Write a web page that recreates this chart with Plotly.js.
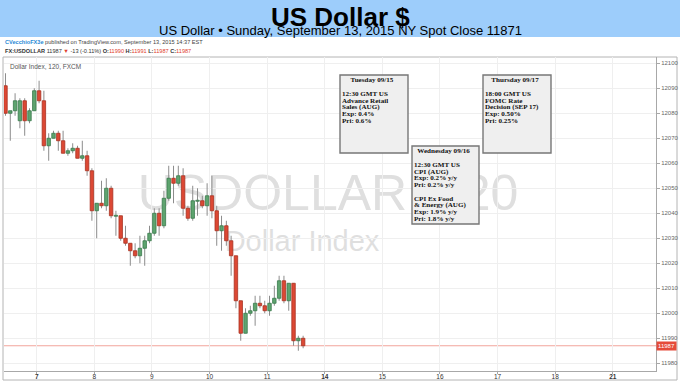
<!DOCTYPE html>
<html><head><meta charset="utf-8">
<script src="https://cdn.plot.ly/plotly-3.0.1.min.js"></script>
<style>
html,body{margin:0;padding:0;background:#fff;overflow:hidden}
#wrap{position:relative;width:680px;height:382px}
.wm{position:absolute;font-family:"Liberation Sans",Arial,sans-serif;color:#dfdfdf;white-space:nowrap;transform:translate(-50%,-50%);line-height:1}
#wm1{left:328px;top:193px;font-size:50px}
#wm2{left:302px;top:241px;font-size:29px}
#chart{position:absolute;left:0;top:0;width:680px;height:382px}
.bt{position:absolute;font-family:"Liberation Serif","Times New Roman",serif;font-weight:bold;font-size:5.9px;color:#111;white-space:nowrap;transform-origin:0 0}
</style></head>
<body><div id="wrap"><div class="wm" id="wm1">USDOLLAR, 120</div><div class="wm" id="wm2">Dollar Index</div><div id="chart"></div></div>
<script>
// ---- data (120-minute candles, FXCM USDOLLAR) ----
const opens  = [12091,12080,12081,12077,12085,12077,12081,12089,12085,12067,12070,12072,12069,12064,12065,12066,12062,12063,12057,12041,12044,12043,12050,12039,12039,12030,12028,12025,12023,12026,12029,12032,12040,12035,12046,12054,12052,12055,12042,12038,12045,12045,12043,12047,12041,12033,12035,12029,12023,12005,11992,12000,12001,12004,12003,12001,12004,12006,12013,12005,12012,11989,11990];
const highs  = [12096,12081,12088,12086,12086,12082,12090,12093,12089,12072,12073,12073,12073,12066,12068,12067,12069,12065,12058,12044,12053,12054,12051,12041,12039,12035,12028,12028,12031,12031,12035,12042,12042,12049,12059,12059,12059,12058,12043,12051,12050,12047,12052,12055,12043,12039,12037,12031,12023,12005,12002,12003,12007,12007,12005,12007,12011,12015,12015,12012,12012,11991,11991];
const lows   = [12079,12069,12079,12074,12071,12076,12081,12084,12065,12061,12070,12065,12064,12063,12064,12062,12061,12055,12037,12030,12042,12041,12038,12031,12029,12027,12019,12022,12020,12019,12028,12031,12031,12034,12045,12044,12051,12039,12037,12037,12039,12042,12039,12038,12027,12025,12027,12015,12002,11989,11992,11999,11995,12002,12000,11999,12003,12005,12004,12001,11987,11985,11986];
const closes = [12080,12081,12085,12085,12077,12081,12089,12085,12067,12070,12072,12069,12064,12065,12066,12062,12063,12057,12041,12044,12043,12050,12039,12039,12030,12028,12025,12023,12026,12029,12032,12040,12035,12046,12054,12052,12055,12042,12038,12045,12045,12043,12047,12041,12033,12035,12029,12023,12005,11992,12000,12001,12004,12003,12001,12004,12006,12013,12005,12012,11989,11990,11987];
const dayLabels = ['7','8','9','10','11','14','15','16','17','18','21'];
const weekStart = [true,false,false,false,false,true,false,false,false,false,true];
const lastPrice = 11987;
const tueTitle = 'Tuesday 09/15';
const tueLines = ['12:30 GMT US','Advance Retail','Sales (AUG)','Exp: 0.4%','Pri: 0.6%'];
const wedTitle = 'Wednesday 09/16';
const wedLines = ['12:30 GMT US','CPI (AUG)','Exp: 0.2% y/y','Pri: 0.2% y/y','','CPI Ex Food','& Energy (AUG)','Exp: 1.9% y/y','Pri: 1.8% y/y'];
const thuTitle = 'Thursday 09/17';
const thuLines = ['18:00 GMT US','FOMC Rate','Decision (SEP 17)','Exp: 0.50%','Pri: 0.25%'];

// ---- geometry helpers (layout only) ----
const M = {l:4, r:24, t:57, b:11};
const W = 680, H = 382;
const PW = W - M.l - M.r, PH = H - M.t - M.b;
const px = x => (x - M.l) / PW;
const py = y => (H - M.b - y) / PH;

const idx = opens.map((_, i) => i);

// wicks
const wx = [], wy = [];
idx.forEach(i => { wx.push(i, i, null); wy.push(lows[i], highs[i], null); });

function bodies(up) {
  const bx = [], by = [], hw = 0.36;
  idx.forEach(i => {
    const o = opens[i], c = closes[i];
    if ((c >= o) !== up) return;
    let top = Math.max(o, c), bot = Math.min(o, c);
    if (top - bot < 0.4) { const m = (top + bot) / 2; top = m + 0.2; bot = m - 0.2; }
    bx.push(i - hw, i + hw, i + hw, i - hw, i - hw, null);
    by.push(bot, bot, top, top, bot, null);
  });
  return {bx, by};
}
const upB = bodies(true), dnB = bodies(false);

const traces = [
  {type:'scatter', mode:'lines', x:wx, y:wy, line:{color:'#8c8c8c', width:1}, hoverinfo:'skip'},
  {type:'scatter', mode:'lines', x:upB.bx, y:upB.by, fill:'toself', fillcolor:'#5ea46f', line:{color:'#3a7a4d', width:0.8}, hoverinfo:'skip'},
  {type:'scatter', mode:'lines', x:dnB.bx, y:dnB.by, fill:'toself', fillcolor:'#dc4834', line:{color:'#a83222', width:0.8}, hoverinfo:'skip'}
];

const tickvals = dayLabels.map((_, k) => 6.5 + 12 * k);
const ticktext = dayLabels.map((d, k) => weekStart[k] ? '<b>' + d + '</b>' : d);

const shapes = [
  {type:'rect', xref:'paper', yref:'paper', x0:-0.02, x1:1.05, y0:py(37), y1:py(-2), fillcolor:'#9dcdfb', line:{width:0}, layer:'below'},
  {type:'rect', xref:'paper', yref:'paper', x0:px(3), x1:px(677), y0:py(380), y1:py(57), line:{color:'#b4b4b4', width:1}, fillcolor:'rgba(0,0,0,0)', layer:'below'},
  {type:'line', xref:'paper', yref:'y', x0:0, x1:1, y0:lastPrice, y1:lastPrice, line:{color:'#f2a49b', width:1}, layer:'below'}
];
const annotations = [
  {xref:'paper', yref:'paper', x:px(340), y:py(17), text:'<b>US Dollar $</b>', showarrow:false, xanchor:'center', yanchor:'middle', font:{family:'Liberation Sans', size:26, color:'#000'}},
  {xref:'paper', yref:'paper', x:px(340), y:py(30.5), text:'US Dollar • Sunday, September 13, 2015 NY Spot Close 11871', showarrow:false, xanchor:'center', yanchor:'middle', font:{family:'Liberation Sans', size:13, color:'#000'}},
  {xref:'paper', yref:'paper', x:px(3), y:py(42), text:'<b><span style="color:#2a8ad6">CVecchioFX3e</span></b> published on TradingView.com, September 13, 2015 14:37 EST', showarrow:false, xanchor:'left', yanchor:'middle', font:{family:'Liberation Sans', size:5.6, color:'#444'}},
  {xref:'paper', yref:'paper', x:px(3), y:py(51), text:'<b>FX:USDOLLAR</b> 11987 <span style="color:#e0402e">▼</span> -13 (-0.11%) <b>O:</b><span style="color:#e0402e">11990</span> <b>H:</b><span style="color:#e0402e">11991</span> <b>L:</b><span style="color:#e0402e">11987</span> <b>C:</b><span style="color:#e0402e">11987</span>', showarrow:false, xanchor:'left', yanchor:'middle', font:{family:'Liberation Sans', size:5.6, color:'#333'}},
  {xref:'paper', yref:'paper', x:px(8), y:py(66), text:'Dollar Index, 120, FXCM', showarrow:false, xanchor:'left', yanchor:'middle', font:{family:'Liberation Sans', size:6.5, color:'#555'}},
  {xref:'paper', yref:'y', x:1, y:lastPrice, xanchor:'left', yanchor:'middle', xshift:0, text:String(lastPrice), showarrow:false, bgcolor:'#e54b3a', borderpad:1, font:{family:'Liberation Sans', size:6, color:'#fff'}}
];

// event boxes: frames drawn by Plotly, text lines as HTML overlay with tight line spacing
const boxes = [
  {title:tueTitle, lines:tueLines, l:340, r:408, t:75, b:153},
  {title:wedTitle, lines:wedLines, l:412, r:479, t:146, b:224},
  {title:thuTitle, lines:thuLines, l:483, r:551, t:75, b:153}
];
const wrap = document.getElementById('wrap');
const SX = 1.2;
boxes.forEach(bx => {
  shapes.push({type:'rect', xref:'paper', yref:'paper', x0:px(bx.l), x1:px(bx.r), y0:py(bx.b), y1:py(bx.t), fillcolor:'#efefef', line:{color:'#777', width:1.4}, layer:'above'});
  const h = document.createElement('div');
  h.className = 'bt';
  h.textContent = bx.title;
  h.style.left = bx.l + 'px';
  h.style.width = ((bx.r - bx.l - 4) / SX) + 'px';
  h.style.textAlign = 'center';
  h.style.top = (bx.t + 2.3) + 'px';
  h.style.lineHeight = '6.6px';
  h.style.transform = 'scaleX(' + SX + ')';
  h.style.zIndex = 5;
  wrap.appendChild(h);
  const b = document.createElement('div');
  b.className = 'bt';
  b.style.left = (bx.l + 1.5) + 'px';
  b.style.top = (bx.t + 15.8) + 'px';
  b.style.lineHeight = '6.75px';
  b.style.transform = 'scaleX(' + SX + ')';
  b.style.zIndex = 5;
  bx.lines.forEach(ln => {
    const d = document.createElement('div');
    d.style.height = '6.75px';
    d.textContent = ln;
    b.appendChild(d);
  });
  wrap.appendChild(b);
});

const layout = {
  width:W, height:H, margin:M,
  paper_bgcolor:'rgba(0,0,0,0)', plot_bgcolor:'rgba(0,0,0,0)',
  showlegend:false, hovermode:false,
  xaxis:{range:[-0.31, 135.5], tickmode:'array', tickvals:tickvals, ticktext:ticktext, showgrid:true, gridcolor:'#efefef', gridwidth:1, zeroline:false, showline:true, linecolor:'#a8a8a8', linewidth:1, ticks:'outside', ticklen:2, tickcolor:'#a8a8a8', ticklabelstandoff:-3, tickfont:{family:'Liberation Sans', size:6.5, color:'#333'}},
  yaxis:{side:'right', range:[11976.9, 12102.5], tick0:11980, dtick:10, tickformat:'d', showgrid:true, gridcolor:'#efefef', gridwidth:1, zeroline:false, showline:true, linecolor:'#a8a8a8', linewidth:1, ticks:'outside', ticklen:3, tickcolor:'#a8a8a8', tickfont:{family:'Liberation Sans', size:6, color:'#666'}},
  shapes:shapes, annotations:annotations
};
Plotly.newPlot('chart', traces, layout, {staticPlot:true, displayModeBar:false});
</script>
</body></html>
